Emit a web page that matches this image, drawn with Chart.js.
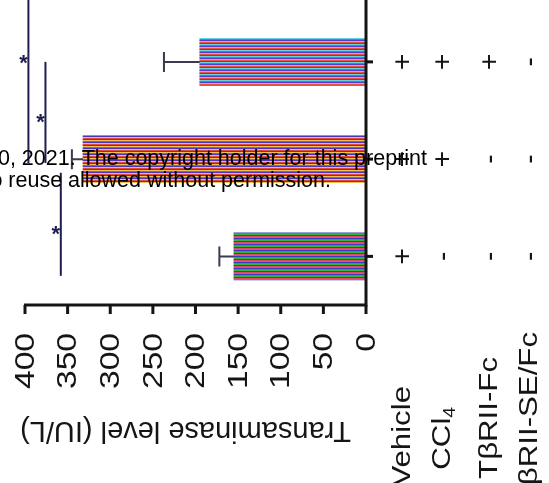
<!DOCTYPE html>
<html><head><meta charset="utf-8">
<script src="https://cdn.jsdelivr.net/npm/chart.js@4/dist/chart.umd.min.js"></script>
<style>
html,body{margin:0;padding:0;background:#fff;overflow:hidden;width:549px;height:483px;}
#wrap{position:absolute;left:0;top:-84px;width:549px;height:567px;}
</style></head><body>
<div id="wrap"><canvas id="c" width="549" height="567"></canvas></div>
<script>
// ---- data ----
const groups = ['CCl4 + TβRII-SE/Fc', 'CCl4 + TβRII-Fc', 'CCl4', 'Vehicle'];
const transaminase = [null, 195, 332, 155];
const errorUpper = [null, 42, 13, 17];
const xTicks = [0, 50, 100, 150, 200, 250, 300, 350, 400];
const treatments = ['Vehicle', 'CCl4', 'TβRII-Fc', 'TβRII-SE/Fc'];
const signs = [
  ['+', '+', '-', '+'],
  ['+', '+', '+', '-'],
  ['+', '+', '-', '-'],
  ['+', '-', '-', '-']
];
const brackets = [
  {from: 0, to: 2.04, at: 396, star: 0.98},
  {from: 1, to: 2.04, at: 376, star: 1.58},
  {from: 2.14, to: 3.2, at: 358, star: 2.73}
];
const axisTitle = 'Transaminase level (IU/L)';
const watermark = ['30, 2021. The copyright holder for this preprint', 'No reuse allowed without permission.'];

// ---- layout / style ----
const PAGE_OFF = 84;
const colX = [403, 443, 490, 530];
const labelTop = [386, 407, 357, 332];
const FONT = '"Liberation Sans", Arial, sans-serif';

function stripePattern(colors) {
  const c = document.createElement('canvas');
  c.width = 4; c.height = colors.length;
  const g = c.getContext('2d');
  colors.forEach((col, i) => { g.fillStyle = col; g.fillRect(0, i, 4, 1); });
  return g.createPattern(c, 'repeat');
}
const patA = stripePattern(['#e8503c', '#5a3cc8', '#62d4e0']);
const patB = stripePattern(['#e04a3a', '#4a36c0', '#f0c050']);
const patC = stripePattern(['#2fb83a', '#3a3ac4', '#e04868']);
const barFills = [patA, patA, patB, patC];

function rotText(ctx, text, x, y, rot, align, font, stretch) {
  ctx.save();
  ctx.translate(x, y);
  ctx.rotate(rot);
  ctx.scale(stretch, 1);
  ctx.font = font;
  ctx.textAlign = align;
  ctx.textBaseline = 'middle';
  ctx.fillText(text, 0, 0);
  ctx.restore();
}

const custom = {
  id: 'custom',
  afterDatasetsDraw(chart) {
    const ctx = chart.ctx, xs = chart.scales.x, ys = chart.scales.y, ca = chart.chartArea;
    ctx.save();
    // error bars
    transaminase.forEach((v, i) => {
      if (v == null) return;
      const y = ys.getPixelForValue(i);
      const a = xs.getPixelForValue(v), b = xs.getPixelForValue(v + errorUpper[i]);
      ctx.strokeStyle = '#3a3a50'; ctx.lineWidth = 2;
      ctx.beginPath(); ctx.moveTo(a, y); ctx.lineTo(b, y);
      ctx.moveTo(b, y - 10); ctx.lineTo(b, y + 10); ctx.stroke();
    });
    // axes
    const x0 = xs.getPixelForValue(0), xm = xs.getPixelForValue(400), yB = ca.bottom;
    ctx.strokeStyle = '#141414'; ctx.lineWidth = 3;
    ctx.beginPath(); ctx.moveTo(x0, ca.top); ctx.lineTo(x0, yB); ctx.lineTo(xm - 1, yB); ctx.stroke();
    xTicks.forEach(t => {
      const x = xs.getPixelForValue(t);
      ctx.beginPath(); ctx.moveTo(x, yB); ctx.lineTo(x, yB + 9); ctx.stroke();
    });
    groups.forEach((g, i) => {
      const y = ys.getPixelForValue(i);
      ctx.beginPath(); ctx.moveTo(x0, y); ctx.lineTo(x0 + 7, y); ctx.stroke();
    });
    // tick labels
    ctx.fillStyle = '#151515';
    xTicks.forEach(t => {
      const x = xs.getPixelForValue(t);
      rotText(ctx, String(t), x + 1, yB + 28, -Math.PI / 2, 'right', '28px ' + FONT, 1.2);
    });
    // axis title (upside down)
    ctx.save();
    ctx.translate((xs.getPixelForValue(0) + xs.getPixelForValue(400)) / 2 - 10, 422 + PAGE_OFF);
    ctx.rotate(Math.PI);
    ctx.font = '29px ' + FONT; ctx.textAlign = 'center'; ctx.textBaseline = 'alphabetic';
    ctx.fillText(axisTitle, 0, 0);
    ctx.restore();
    // treatment labels
    treatments.forEach((t, j) => {
      const x = colX[j], y = labelTop[j] + PAGE_OFF;
      const f = '26px ' + FONT;
      if (t === 'CCl4') {
        ctx.save();
        ctx.translate(x, y); ctx.rotate(-Math.PI / 2); ctx.scale(1.2, 1);
        ctx.textBaseline = 'middle'; ctx.textAlign = 'right';
        ctx.font = '16px ' + FONT;
        const w4 = ctx.measureText('4').width;
        ctx.fillText('4', 0, 8);
        ctx.font = f;
        ctx.fillText('CCl', -w4, 0);
        ctx.restore();
      } else {
        rotText(ctx, t, x, y, -Math.PI / 2, 'right', f, 1.2);
      }
    });
    // +/- table
    signs.forEach((row, i) => {
      const y = ys.getPixelForValue(i);
      row.forEach((s, j) => rotText(ctx, s, colX[j], y, -Math.PI / 2, 'center', '28px ' + FONT, 1));
    });
    // significance brackets
    ctx.strokeStyle = '#1e1e50'; ctx.lineWidth = 2; ctx.fillStyle = '#1e1e50';
    brackets.forEach(br => {
      const x = xs.getPixelForValue(br.at);
      ctx.beginPath(); ctx.moveTo(x, ys.getPixelForValue(br.from)); ctx.lineTo(x, ys.getPixelForValue(br.to)); ctx.stroke();
      ctx.font = 'bold 22px ' + FONT; ctx.textAlign = 'center'; ctx.textBaseline = 'alphabetic';
      const m = ctx.measureText('*');
      const yc = ys.getPixelForValue(br.star);
      ctx.fillText('*', x - 5, yc + (m.actualBoundingBoxAscent - m.actualBoundingBoxDescent) / 2);
    });
    // watermark overlay
    ctx.fillStyle = '#000'; ctx.font = '21.5px ' + FONT; ctx.textAlign = 'right'; ctx.textBaseline = 'alphabetic';
    ctx.fillText(watermark[0], 427, 165 + PAGE_OFF);
    ctx.fillText(watermark[1], 331, 187 + PAGE_OFF);
    ctx.restore();
  }
};

new Chart(document.getElementById('c'), {
  type: 'bar',
  data: {
    labels: groups,
    datasets: [{
      data: transaminase,
      backgroundColor: ctx => barFills[ctx.dataIndex],
      borderWidth: 0,
      barThickness: 47
    }]
  },
  options: {
    indexAxis: 'y',
    responsive: false,
    animation: false,
    devicePixelRatio: 1,
    layout: {padding: {left: 25, right: 183, top: 0, bottom: 178}},
    plugins: {legend: {display: false}, tooltip: {enabled: false}},
    scales: {
      x: {type: 'linear', min: 0, max: 400, reverse: true, display: false},
      y: {type: 'category', display: false, offset: true}
    }
  },
  plugins: [custom]
});
</script>
</body></html>
